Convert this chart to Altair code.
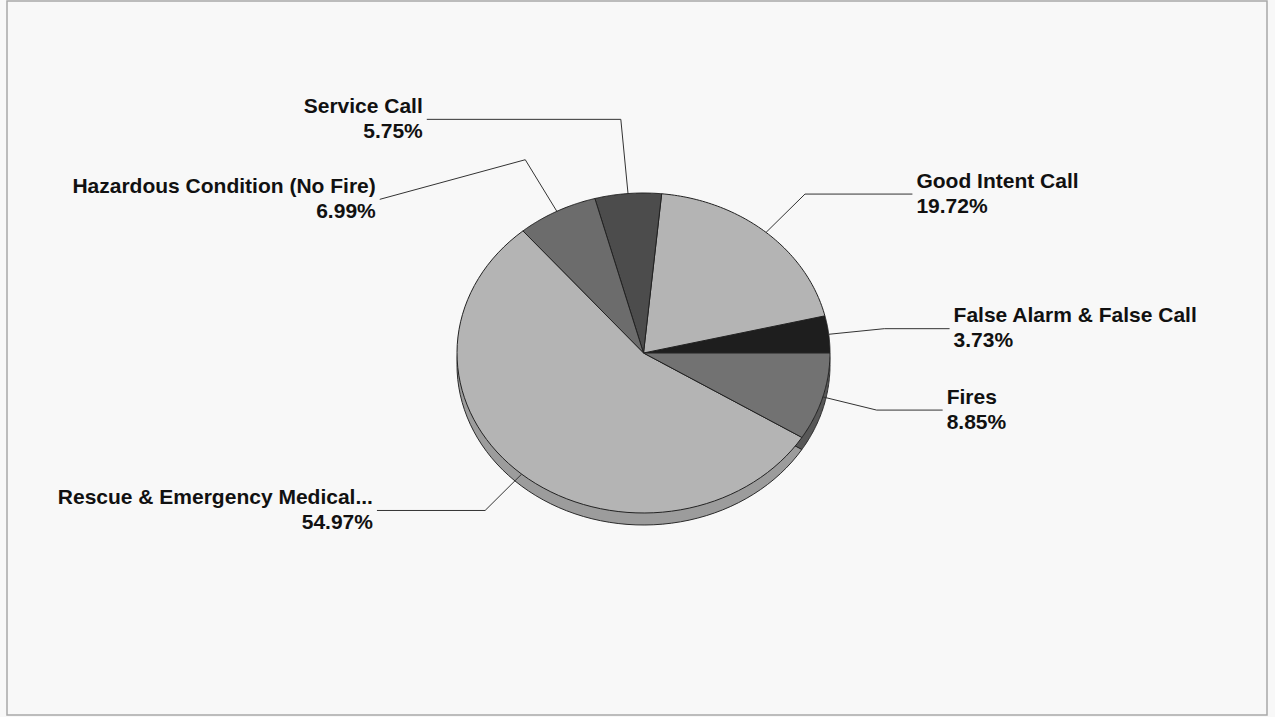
import altair as alt
import pandas as pd

# ---- data ----
categories = [
    "False Alarm & False Call",
    "Good Intent Call",
    "Service Call",
    "Hazardous Condition (No Fire)",
    "Rescue & Emergency Medical...",
    "Fires",
]
percents = [3.73, 19.72, 5.75, 6.99, 54.97, 8.85]

# ---- styles ----
top_colors = ["#1e1e1e", "#b4b4b4", "#4c4c4c", "#6c6c6c", "#b4b4b4", "#727272"]
rim_colors = ["#141414", "#9c9c9c", "#3a3a3a", "#575757", "#9c9c9c", "#585858"]

df = pd.DataFrame({"idx": list(range(len(categories))), "cat": categories, "pct": percents})

N = 72
xs = alt.Scale(domain=[-1, 1])
ys = alt.Scale(domain=[-1, 1])

base = (
    alt.Chart(df)
    .transform_window(cum="sum(pct)", sort=[alt.SortField("idx")], frame=[None, 0])
    .transform_joinaggregate(total="sum(pct)")
    .transform_calculate(
        a0="2*PI*(datum.cum - datum.pct)/datum.total",
        a1="2*PI*datum.cum/datum.total",
    )
)

poly = (
    base.transform_calculate(pts=f"sequence(0, {N + 3})")
    .transform_flatten(["pts"], as_=["k"])
    .transform_calculate(
        a=f"datum.a0 + (datum.a1 - datum.a0) * clamp(datum.k - 1, 0, {N}) / {N}",
        on=f"(datum.k > 0 && datum.k < {N + 2}) ? 1 : 0",
    )
    .transform_calculate(
        px="datum.on * cos(datum.a)",
        py="datum.on * sin(datum.a)",
        pyr="datum.on * sin(datum.a) - 0.075",
    )
)

rim = poly.mark_line(stroke="#2a2a2a", strokeWidth=1, strokeJoin="round").encode(
    x=alt.X("px:Q", scale=xs, axis=None),
    y=alt.Y("pyr:Q", scale=ys, axis=None),
    fill=alt.Fill("cat:N", scale=alt.Scale(domain=categories, range=rim_colors), legend=None),
    order=alt.Order("k:Q"),
)

top = poly.mark_line(stroke="#222222", strokeWidth=1, strokeJoin="round").encode(
    x=alt.X("px:Q", scale=xs, axis=None),
    y=alt.Y("py:Q", scale=ys, axis=None),
    fill=alt.Fill("cat:N", scale=alt.Scale(domain=categories, range=top_colors), legend=None),
    order=alt.Order("k:Q"),
)

# label layout: elbow on a radius just outside the pie, horizontal run to the label,
# labels on the same side pushed apart when they would collide
lab = (
    base.transform_calculate(m="(datum.a0 + datum.a1) / 2")
    .transform_calculate(
        s="sin(datum.m)",
        c="cos(datum.m)",
        side="cos(datum.m) >= 0 ? 1 : -1",
    )
    .transform_calculate(re="1.3 + 0.17 * pow(max(0, datum.s), 8)")
    .transform_calculate(
        ex="datum.re * datum.c",
        ey="datum.re * datum.s",
    )
    .transform_window(
        prev="lag(ey)", groupby=["side"], sort=[alt.SortField("ey", order="descending")]
    )
    .transform_calculate(
        ty="isValid(datum.prev) ? min(datum.ey, datum.prev - 0.5) : datum.ey",
        tx="datum.ex + datum.side * (0.35 + 0.7 * pow(datum.s, 4))",
        label="[datum.cat, format(datum.pct, '.2f') + '%']",
    )
)

leaders = (
    lab.transform_calculate(pts="sequence(0, 3)")
    .transform_flatten(["pts"], as_=["k"])
    .transform_calculate(
        lx="datum.k == 0 ? datum.c : (datum.k == 1 ? datum.ex : datum.tx)",
        ly="datum.k == 0 ? datum.s : (datum.k == 1 ? datum.ey : datum.ty)",
    )
    .mark_line(stroke="#333333", strokeWidth=1)
    .encode(
        x=alt.X("lx:Q", scale=xs, axis=None),
        y=alt.Y("ly:Q", scale=ys, axis=None),
        detail="cat:N",
        order=alt.Order("k:Q"),
    )
)

text_style = dict(font="Liberation Sans", fontWeight="bold", fontSize=21, lineHeight=25,
                  baseline="middle", dy=-12.5, color="#111111")

labels_right = lab.transform_filter("datum.side > 0").mark_text(align="left", dx=4, **text_style).encode(
    x=alt.X("tx:Q", scale=xs, axis=None),
    y=alt.Y("ty:Q", scale=ys, axis=None),
    text=alt.Text("label:N"),
)
labels_left = lab.transform_filter("datum.side < 0").mark_text(align="right", dx=-4, **text_style).encode(
    x=alt.X("tx:Q", scale=xs, axis=None),
    y=alt.Y("ty:Q", scale=ys, axis=None),
    text=alt.Text("label:N"),
)

frame = alt.Chart(pd.DataFrame({"f": [0]})).mark_rect(
    fill="transparent", stroke="#a8a8a8", strokeWidth=1.5
).encode(
    x=alt.value(-450), x2=alt.value(810), y=alt.value(-192), y2=alt.value(522)
)

chart = (
    alt.layer(frame, rim, top, leaders, labels_left, labels_right)
    .resolve_scale(fill="independent")
    .properties(
        width=373,
        height=320,
        padding={"left": 457, "top": 193, "right": 445, "bottom": 204},
        autosize=alt.AutoSizeParams(type="none"),
        background="#f8f8f8",
    )
    .configure_view(strokeWidth=0)
)

chart.save("out.html", embed_options={"renderer": "svg", "actions": False})
